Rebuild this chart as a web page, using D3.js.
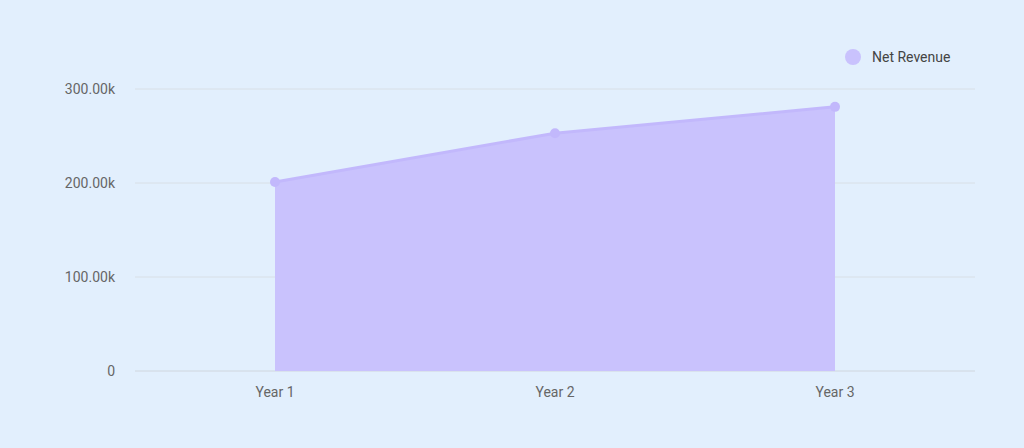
<!DOCTYPE html>
<html><head><meta charset="utf-8">
<script src="https://cdn.jsdelivr.net/npm/d3@7/dist/d3.min.js"></script>
<style>body{margin:0;background:#e2effd;}svg{display:block;font-family:Roboto,sans-serif;}</style>
</head><body>
<svg id="c" width="1024" height="448"></svg>
<script>
const categories = ["Year 1","Year 2","Year 3"];
const netRevenue = [201000, 253000, 281000];
const yTicks = [0,100000,200000,300000];
const seriesName = "Net Revenue";

const svg = d3.select("#c");
const m = {l:135, r:975, t:89, b:371};
const x = d3.scaleBand().domain(categories).range([m.l, m.r]);
const y = d3.scaleLinear().domain([0,300000]).range([m.b, m.t]);
const cx = d => x(d) + x.bandwidth()/2;
const fmt = v => v === 0 ? "0" : (v/1000).toFixed(2) + "k";

svg.append("g").selectAll("line").data(yTicks).join("line")
  .attr("x1", m.l).attr("x2", m.r).attr("y1", d=>y(d)).attr("y2", d=>y(d))
  .attr("stroke", d => d===0 ? "#cfd6de" : "#d8dfe6").attr("stroke-width",1);
svg.append("g").selectAll("text").data(yTicks).join("text")
  .attr("x", m.l-20).attr("y", d=>y(d)).attr("dy","0.35em").attr("text-anchor","end")
  .attr("fill","#666").attr("font-size",14).text(fmt);
svg.append("g").selectAll("text").data(categories).join("text")
  .attr("x", cx).attr("y", m.b+26).attr("text-anchor","middle")
  .attr("fill","#666").attr("font-size",14).text(d=>d);

const pts = categories.map((c,i)=>({c, v:netRevenue[i]}));
svg.append("path").datum(pts)
  .attr("d", d3.area().x(d=>cx(d.c)).y0(y(0)).y1(d=>y(d.v)))
  .attr("fill","#c9c2fd");
svg.append("path").datum(pts)
  .attr("d", d3.line().x(d=>cx(d.c)).y(d=>y(d.v)))
  .attr("fill","none").attr("stroke","#c2b8fc").attr("stroke-width",3);
svg.append("g").selectAll("circle").data(pts).join("circle")
  .attr("cx", d=>cx(d.c)).attr("cy", d=>y(d.v)).attr("r",5).attr("fill","#c2b8fc");

svg.append("circle").attr("cx",853).attr("cy",57).attr("r",8).attr("fill","#c9c2fd");
svg.append("text").attr("x",872).attr("y",57).attr("dy","0.35em")
  .attr("fill","#444").attr("font-size",14).text(seriesName);
</script>
</body></html>
